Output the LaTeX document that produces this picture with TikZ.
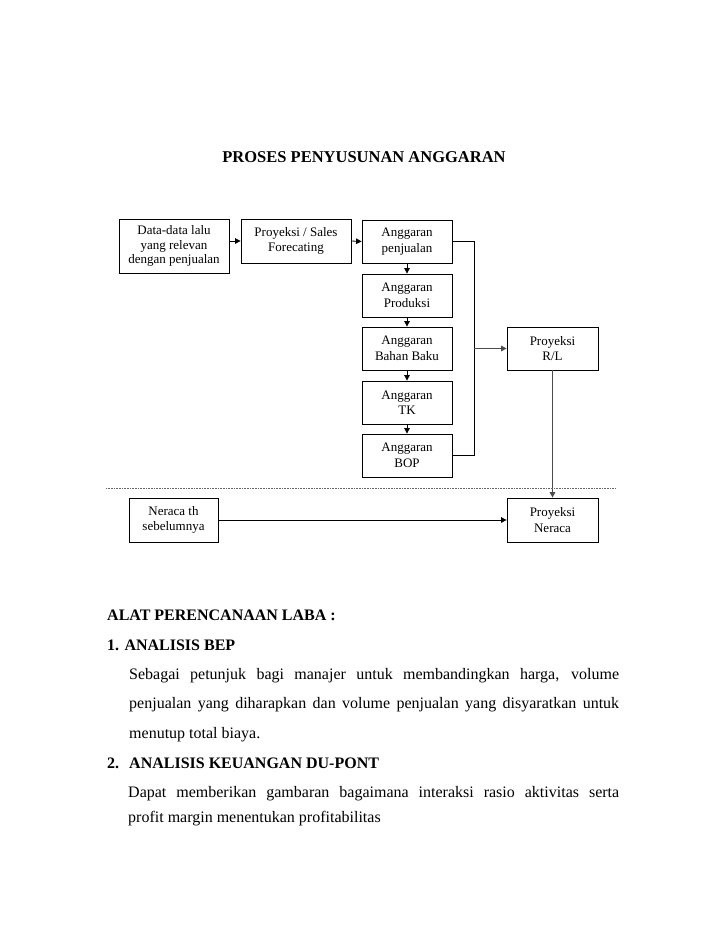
\documentclass[tikz,border=0pt]{standalone}
\usepackage{fontspec}
\setmainfont{Liberation Serif}
\usetikzlibrary{arrows.meta}
\tikzset{
  box/.style={draw=black, line width=0.8pt, rectangle, align=center, inner sep=0pt,
    font=\fontsize{13}{15.5}\selectfont},
  colbox/.style={box, minimum width=90pt, minimum height=43pt},
  conn/.style={draw=black, line width=0.8pt, -{Triangle[length=5.5pt,width=5.5pt]}},
  gconn/.style={draw=black!70, line width=1.3pt, -{Triangle[length=5.5pt,width=5.5pt]}},
  line/.style={draw=black, line width=0.8pt},
  body/.style={anchor=base west, inner sep=0pt, font=\fontsize{16}{18}\selectfont},
  head/.style={body, font=\fontsize{16}{18}\selectfont\bfseries},
}
\begin{document}
\begin{tikzpicture}[x=1pt,y=-1pt]
\useasboundingbox (0,0) rectangle (728,943);

\node[head, anchor=base, font=\fontsize{16.5}{18}\selectfont\bfseries] (title) at (364,162) {PROSES PENYUSUNAN ANGGARAN};

\node[box, minimum width=110pt, minimum height=54pt, font=\fontsize{13}{14.5}\selectfont] (data) at (174,246) {Data-data lalu\\yang relevan\\dengan penjualan};
\node[box, minimum width=110pt, minimum height=44pt] (sales) at (296,241) {Proyeksi / Sales\\Forecating};
\node[colbox] (penj) at (407,241.5) {Anggaran\\penjualan};
\node[colbox] (prod) at (407,295.5) {Anggaran\\Produksi};
\node[colbox] (bahan) at (407,348.5) {Anggaran\\Bahan Baku};
\node[colbox] (tk) at (407,402.5) {Anggaran\\TK};
\node[colbox] (bop) at (407,455.5) {Anggaran\\BOP};
\node[box, minimum width=91pt, minimum height=43pt] (rl) at (552.5,348.5) {Proyeksi\\R/L};
\node[box, minimum width=89pt, minimum height=44pt] (nth) at (173.5,520) {Neraca th\\sebelumnya};
\node[box, minimum width=91pt, minimum height=44pt] (pn) at (552.5,520) {Proyeksi\\Neraca};

\coordinate (bt) at (474,241.5);
\coordinate (bb) at (474,455.5);
\coordinate (bm) at (474,348.5);
\coordinate (dl) at (106,488);
\coordinate (dr) at (616,488);

\draw[conn] (sales.west -| data.east) -- (sales.west);
\draw[conn] (sales.east) -- (penj.west);
\draw[conn] (penj.south) -- (prod.north);
\draw[conn] (prod.south) -- (bahan.north);
\draw[conn] (bahan.south) -- (tk.north);
\draw[conn] (tk.south) -- (bop.north);
\draw[line] (penj.east) -- (bt) -- (bb) -- (bop.east);
\draw[gconn] (bm) -- (rl.west);
\draw[gconn] (rl.south) -- (pn.north);
\draw[conn] (nth.east) -- (pn.west);
\draw[black!60, line width=0.6pt, densely dotted] (dl) -- (dr);

\node[head] (alat) at (107,620) {ALAT PERENCANAAN LABA :};
\node[head] (h1) at (107,650) {1. ANALISIS BEP};
\node[body] (p1) at (129,679) {\makebox[490pt][s]{Sebagai petunjuk bagi manajer untuk membandingkan harga, volume}};
\node[body] (p2) at (129,708) {\makebox[490pt][s]{penjualan yang diharapkan dan volume penjualan yang disyaratkan untuk}};
\node[body] (p3) at (129,738) {menutup total biaya.};
\node[head] (h2) at (107,768) {\makebox[22pt][l]{2.}ANALISIS KEUANGAN DU-PONT};
\node[body] (p4) at (128,797) {\makebox[491pt][s]{Dapat memberikan gambaran bagaimana interaksi rasio aktivitas serta}};
\node[body] (p5) at (128,822) {profit margin menentukan profitabilitas};
\end{tikzpicture}
\end{document}
